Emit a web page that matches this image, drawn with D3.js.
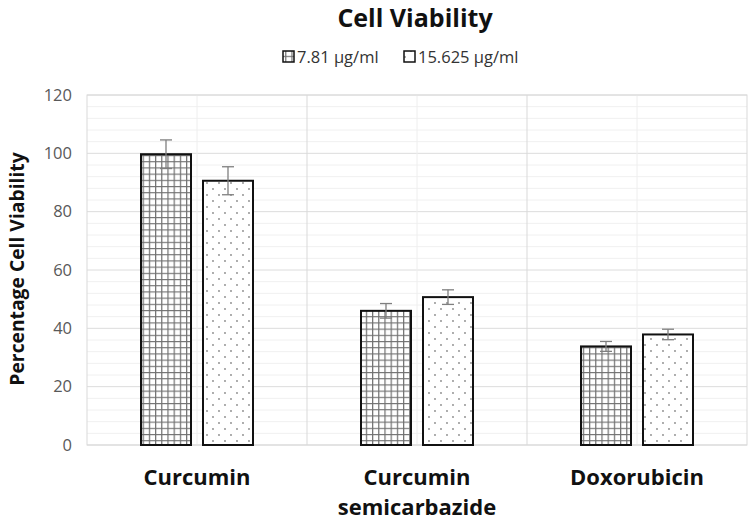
<!DOCTYPE html>
<html><head><meta charset="utf-8">
<script src="https://cdn.jsdelivr.net/npm/d3@7"></script>
<style>body{margin:0;background:#fff}svg{display:block}text{font-family:"Open Sans",sans-serif}</style>
</head><body><svg id="c" width="749" height="520"></svg>
<script>
const categories = ["Curcumin", "Curcumin\nsemicarbazide", "Doxorubicin"];
const seriesNames = ["7.81 \u00b5g/ml", "15.625 \u00b5g/ml"];
const values781 = [99.7, 46.0, 33.8];
const values15625 = [90.6, 50.7, 37.9];
const errors781 = [4.9, 2.5, 1.7];
const errors15625 = [4.8, 2.5, 1.8];
const yTicks = [0, 20, 40, 60, 80, 100, 120];

const svg = d3.select("#c");
const M = {l: 87, r: 747, t: 95, b: 445};
const x = d3.scaleBand().domain(categories).range([M.l, M.r]).paddingInner(0).paddingOuter(0);
const y = d3.scaleLinear().domain([0, 120]).range([M.b, M.t]);

const defs = svg.append("defs");
const pg = defs.append("pattern").attr("id","grid").attr("patternUnits","userSpaceOnUse").attr("width",6.2).attr("height",6.2);
pg.append("rect").attr("width",6.2).attr("height",6.2).attr("fill","#fff");
pg.append("path").attr("d","M0 0H6.2M0 0V6.2").attr("stroke","#707070").attr("stroke-width",2.4);
const pd = defs.append("pattern").attr("id","dots").attr("patternUnits","userSpaceOnUse").attr("width",12).attr("height",12);
pd.append("rect").attr("width",12).attr("height",12).attr("fill","#fff");
pd.append("circle").attr("cx",3).attr("cy",3).attr("r",0.9).attr("fill","#888");
pd.append("circle").attr("cx",9).attr("cy",9).attr("r",0.9).attr("fill","#888");

// minor gridlines
const minor = d3.range(0, 121, 4).filter(v => v % 20 !== 0);
svg.append("g").selectAll("line").data(minor).join("line")
  .attr("x1", M.l).attr("x2", M.r).attr("y1", d => y(d)).attr("y2", d => y(d))
  .attr("stroke", "#f0f0f0").attr("stroke-width", 1);
svg.append("g").selectAll("line").data(yTicks).join("line")
  .attr("x1", M.l).attr("x2", M.r).attr("y1", d => y(d)).attr("y2", d => y(d))
  .attr("stroke", "#dcdcdc").attr("stroke-width", 1);
// vertical gridlines: category centers (minor) and boundaries (major)
svg.append("g").selectAll("line").data(categories).join("line")
  .attr("x1", d => x(d) + x.bandwidth()/2).attr("x2", d => x(d) + x.bandwidth()/2)
  .attr("y1", M.t).attr("y2", M.b).attr("stroke", "#eeeeee");
svg.append("g").selectAll("line").data(categories.slice(1)).join("line")
  .attr("x1", d => x(d)).attr("x2", d => x(d))
  .attr("y1", M.t).attr("y2", M.b).attr("stroke", "#d9d9d9");
svg.append("rect").attr("x", M.l).attr("y", M.t).attr("width", M.r - M.l).attr("height", M.b - M.t)
  .attr("fill", "none").attr("stroke", "#d9d9d9");

// y axis labels
const yAxis = d3.axisLeft(y).tickValues(yTicks).tickSize(0).tickPadding(15);
const ya = svg.append("g").attr("transform", `translate(${M.l},0)`).call(yAxis);
ya.select(".domain").remove();
ya.selectAll("text").attr("font-size", 16.5).attr("fill", "#595959").style("font-family","'Open Sans',sans-serif");

// bars
const series = [
  {vals: values781, errs: errors781, fill: "url(#grid)"},
  {vals: values15625, errs: errors15625, fill: "url(#dots)"}
];
series.forEach((s, i) => {
  const g = svg.append("g");
  const bw = 50, gap = 12;
  const off = i === 0 ? -gap/2 - bw : gap/2;
  g.selectAll("rect").data(categories).join("rect")
    .attr("x", d => x(d) + x.bandwidth()/2 + off)
    .attr("width", bw)
    .attr("y", (d, k) => y(s.vals[k]))
    .attr("height", (d, k) => y(0) - y(s.vals[k]))
    .attr("fill", s.fill).attr("stroke", "#111").attr("stroke-width", 2);
  categories.forEach((c, k) => {
    const cx = x(c) + x.bandwidth()/2 + off + bw/2;
    const y1 = y(s.vals[k] + s.errs[k]), y2 = y(s.vals[k] - s.errs[k]);
    g.append("line").attr("x1", cx).attr("x2", cx).attr("y1", y1).attr("y2", y2).attr("stroke", "#7f7f7f").attr("stroke-width", 1.3);
    g.append("line").attr("x1", cx-6).attr("x2", cx+6).attr("y1", y1).attr("y2", y1).attr("stroke", "#7f7f7f").attr("stroke-width", 1.3);
    g.append("line").attr("x1", cx-6).attr("x2", cx+6).attr("y1", y2).attr("y2", y2).attr("stroke", "#7f7f7f").attr("stroke-width", 1.3);
  });
});

// x labels
categories.forEach(c => {
  const lines = c.split("\n");
  const t = svg.append("text").attr("x", x(c) + x.bandwidth()/2).attr("y", 485)
    .attr("text-anchor", "middle").attr("font-size", 22).attr("font-weight", "bold").attr("fill", "#111");
  lines.forEach((ln, j) => t.append("tspan").attr("x", x(c) + x.bandwidth()/2).attr("dy", j ? 30 : 0).text(ln));
});

// y label
svg.append("text").attr("transform", "translate(24,269) rotate(-90)").attr("text-anchor", "middle")
  .attr("font-size", 19.3).attr("font-weight", "bold").attr("fill", "#111").text("Percentage Cell Viability");

// title
svg.append("text").attr("x", 415).attr("y", 27).attr("text-anchor", "middle")
  .attr("font-size", 25).attr("font-weight", "bold").attr("fill", "#111").text("Cell Viability");

// legend
const legX = [283, 404];
seriesNames.forEach((n, i) => {
  svg.append("rect").attr("x", legX[i]).attr("y", 51).attr("width", 11).attr("height", 11)
    .attr("fill", i === 0 ? "url(#grid)" : "url(#dots)").attr("stroke", "#111").attr("stroke-width", 1.5);
  svg.append("text").attr("x", legX[i] + 14).attr("y", 63).attr("font-size", 16.5).attr("fill", "#333").text(n);
});
</script></body></html>
